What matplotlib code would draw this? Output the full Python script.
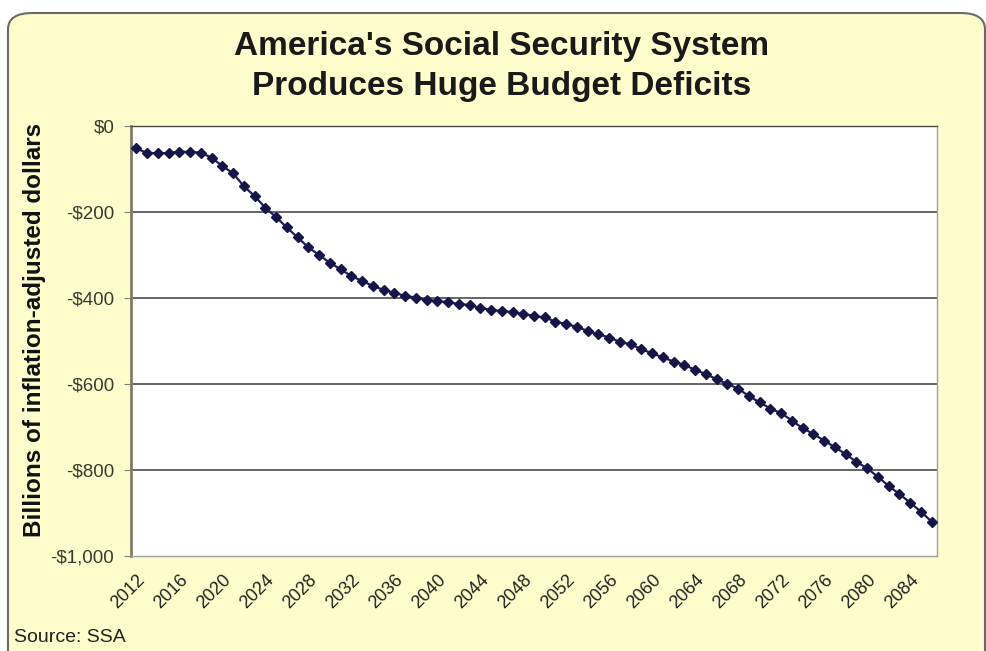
import numpy as np
import matplotlib
matplotlib.use("Agg")
import matplotlib.pyplot as plt
from matplotlib.patches import FancyBboxPatch

# yearly balance, billions of inflation-adjusted dollars
years = list(range(2012, 2087))
deficit = [
    -52, -63, -63, -63, -60, -60, -62, -74, -93, -110,
    -140, -163, -190, -212, -236, -259, -282, -300, -318, -333,
    -349, -360, -372, -381, -388, -395, -399, -405, -407, -410,
    -414, -416, -423, -428, -430, -433, -437, -442, -445, -455,
    -461, -467, -477, -484, -492, -502, -508, -519, -529, -538,
    -548, -556, -567, -577, -589, -600, -611, -628, -643, -657,
    -668, -685, -703, -716, -732, -747, -763, -781, -796, -816,
    -837, -856, -876, -897, -920,
]
y_ticks = [0, -200, -400, -600, -800, -1000]
y_labels = ["$0", "-$200", "-$400", "-$600", "-$800", "-$1,000"]

plt.rcParams['font.family'] = ['Liberation Sans', 'DejaVu Sans']

bg = "#FFFDCC"
fig = plt.figure(figsize=(9.87, 6.51), dpi=100)
fig.patch.set_facecolor("white")

# rounded chart frame, kept behind the axes
frame = FancyBboxPatch((8 / 987, -0.05), 977 / 987, 1.05 - 13 / 651,
                       boxstyle="round,pad=0,rounding_size=0.025",
                       transform=fig.transFigure, facecolor=bg,
                       edgecolor="#6b6b6b", linewidth=1.5, zorder=-1)
fig.patches.append(frame)

ax = fig.add_axes([131 / 987, 1 - 556 / 651, 806 / 987, 430 / 651])
ax.set_zorder(2)
ax.set_facecolor("white")

x = np.arange(len(years))
ax.plot(x, deficit, color="#1c1c5a", linewidth=1.6, marker="D",
        markersize=5.5, markerfacecolor="#15154a", markeredgecolor="#15154a",
        zorder=3)

ax.set_xlim(-0.5, len(years) - 0.5)
ax.set_ylim(-1000, 0)
ax.set_yticks(y_ticks)
ax.set_yticklabels(y_labels, fontsize=13.5, color="#3a3a30")
for v in y_ticks[1:-1]:
    ax.axhline(v, color="#4a4a4a", linewidth=1.2, zorder=1)

xt = [i for i, yr in enumerate(years) if (yr - 2012) % 4 == 0]
ax.set_xticks(xt)
ax.set_xticklabels([str(years[i]) for i in xt], rotation=45, ha="right",
                   rotation_mode="anchor", fontsize=13, color="#222222")
ax.tick_params(axis="x", length=0, pad=11)
ax.tick_params(axis="y", length=5, color="#808080", pad=7)

for s in ["top", "right", "bottom"]:
    ax.spines[s].set_color("#a0a0a0")
    ax.spines[s].set_linewidth(1.0)
ax.spines["top"].set_color("#4a4a4a")
ax.spines["left"].set_color("#7d7d66")
ax.spines["left"].set_linewidth(2.0)

fig.text(502 / 987, 1 - 47 / 651, "America's Social Security System",
         ha="center", va="center", fontsize=24, fontweight="bold", color="#1a1a1a")
fig.text(502 / 987, 1 - 87 / 651, "Produces Huge Budget Deficits",
         ha="center", va="center", fontsize=24, fontweight="bold", color="#1a1a1a")
fig.text(35 / 987, 1 - 330 / 651, "Billions of inflation-adjusted dollars",
         rotation=90, ha="center", va="center", fontsize=17.5,
         fontweight="bold", color="#111111")
fig.text(14 / 987, 1 - 637 / 651, "Source: SSA", ha="left", va="center",
         fontsize=14, color="#222222")

fig.savefig("out.png", dpi=100, facecolor=fig.get_facecolor())
